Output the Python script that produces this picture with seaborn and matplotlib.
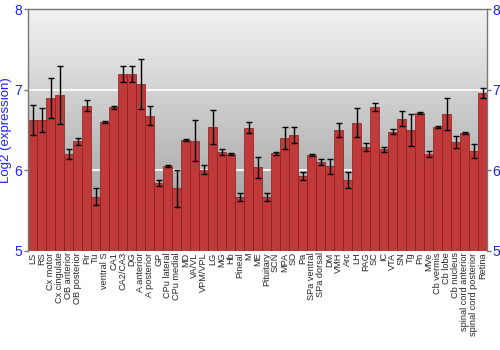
import numpy as np
import matplotlib
matplotlib.use("Agg")
import matplotlib.pyplot as plt
import seaborn as sns
from matplotlib.colors import LinearSegmentedColormap

regions = ["LS", "RS", "Cx motor", "Cx cingulate", "OB anterior", "OB posterior", "Pir", "Tu",
           "ventral S", "CA1", "CA2/CA3", "DG", "A anterior", "A posterior", "GP", "CPu lateral",
           "CPu medial", "MD", "VA/VL", "VPM/VPL", "LG", "MG", "Hb", "Pineal", "M", "ME",
           "Pituitary", "SCN", "MPA", "SO", "Pa", "SPa ventral", "SPa dorsal", "DM", "VMH", "Arc",
           "LH", "PAG", "SC", "IC", "VTA", "SN", "Tg", "Pn", "MVe", "Cb vermis", "Cb lobe",
           "Cb nucleus", "spinal cord anterior", "spinal cord posterior", "Retina"]
expression = [6.625, 6.625, 6.90, 6.93, 6.20, 6.36, 6.80, 5.675,
              6.60, 6.78, 7.20, 7.20, 7.075, 6.68, 5.84, 6.05,
              5.78, 6.38, 6.37, 6.01, 6.54, 6.23, 6.20, 5.675, 6.53, 6.04,
              5.67, 6.21, 6.40, 6.44, 5.93, 6.19, 6.10, 6.05, 6.50, 5.875,
              6.59, 6.29, 6.79, 6.26, 6.48, 6.64, 6.50, 6.71, 6.20, 6.54, 6.70,
              6.35, 6.46, 6.24, 6.96]
error = [0.19, 0.15, 0.25, 0.36, 0.06, 0.04, 0.07, 0.10,
         0.015, 0.02, 0.10, 0.10, 0.31, 0.12, 0.035, 0.01,
         0.23, 0.01, 0.25, 0.06, 0.21, 0.035, 0.015, 0.05, 0.065, 0.13,
         0.045, 0.015, 0.14, 0.10, 0.05, 0.01, 0.04, 0.09, 0.09, 0.10,
         0.18, 0.05, 0.05, 0.035, 0.03, 0.09, 0.20, 0.01, 0.04, 0.015, 0.20,
         0.075, 0.01, 0.09, 0.06]
y_ticks = [5, 6, 7, 8]

sns.set_style("white")
plt.rcParams['font.family'] = ['Liberation Sans', 'DejaVu Sans']

fig = plt.figure(figsize=(5, 3.5), dpi=100)
ax = fig.add_axes([0.056, 0.283, 0.918, 0.691])

# gradient background (light at top, darker at bottom)
grad = np.linspace(0, 1, 256).reshape(-1, 1)
bg = LinearSegmentedColormap.from_list("bg", ["#f2f2f2", "#949494"])
ax.imshow(grad, aspect="auto", cmap=bg, extent=[-0.5, len(regions) - 0.5, 5, 8],
          origin="upper", zorder=0)

for yv in [6, 7]:
    ax.axhline(yv, color="white", lw=1.2, zorder=1)

sns.barplot(x=regions, y=expression, color="#c03a3a", saturation=1, width=0.9,
            edgecolor="#8a1a1a", linewidth=0.5, ax=ax, zorder=2)
ax.errorbar(np.arange(len(regions)), expression, yerr=error, fmt="none",
            ecolor="black", elinewidth=1, capsize=2, capthick=1, zorder=3)

ax.set_xlim(-0.5, len(regions) - 0.5)
ax.set_ylim(5, 8)
ax.set_yticks(y_ticks)
ax.set_yticklabels([str(t) for t in y_ticks])
ax.tick_params(axis="y", colors="#777777", labelcolor="#1f1fff", labelsize=10,
               length=3, width=1, left=True, right=True, labelleft=True, labelright=True, pad=1)
ax.tick_params(axis="x", length=0, labelsize=6.6, labelrotation=90, pad=1)
ax.set_ylabel("Log2 (expression)", color="#1f1fff", fontsize=9.5, labelpad=2)
ax.set_xlabel("")
for s in ["left", "right", "top"]:
    ax.spines[s].set_visible(True)
    ax.spines[s].set_color("#777777")
    ax.spines[s].set_linewidth(1)
ax.spines["bottom"].set_visible(False)

fig.savefig("out.png", dpi=100)
